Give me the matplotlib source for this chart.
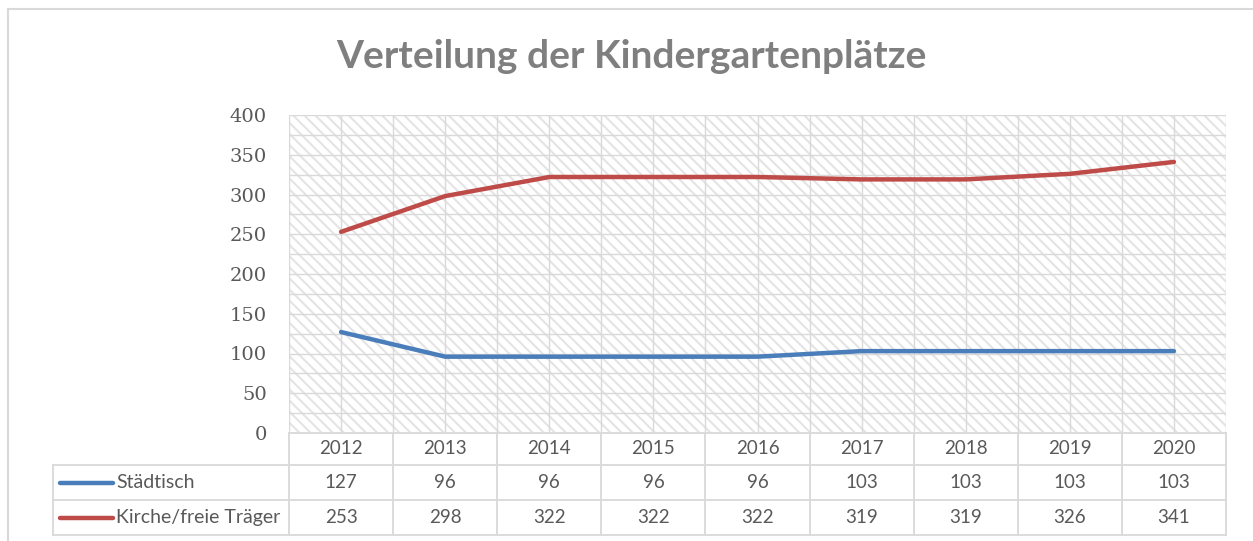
import matplotlib.pyplot as plt
import matplotlib.transforms as mtransforms
from matplotlib.patches import Rectangle
import numpy as np

years = ["2012", "2013", "2014", "2015", "2016", "2017", "2018", "2019", "2020"]
staedtisch = [127, 96, 96, 96, 96, 103, 103, 103, 103]
kirche = [253, 298, 322, 322, 322, 319, 319, 326, 341]
series_names = ["Städtisch", "Kirche/freie Träger"]
series_colors = ["#4A7EBB", "#BE4B48"]

GRID = "#d9d9d9"
TXT = "#595959"

plt.rcParams["hatch.linewidth"] = 1.5
plt.rcParams["hatch.color"] = "#e4e4e4"

fig = plt.figure(figsize=(12.53, 5.41), dpi=100)
ax = fig.add_axes([289 / 1253, 1 - 433 / 541, (1226 - 289) / 1253, (433 - 115) / 541])

x = np.arange(len(years))
ax.set_xlim(-0.5, len(years) - 0.5)
ax.set_ylim(0, 400)

# hatched background
ax.add_patch(Rectangle((0, 0), 1, 1, transform=ax.transAxes, facecolor="white",
                       edgecolor="#e4e4e4", hatch="\\\\\\", lw=0, zorder=0))

# gridlines: every 25 horizontally, every half category vertically
for yv in np.arange(25, 401, 25):
    ax.axhline(yv, color=GRID, lw=1.0, zorder=1)
for xv in np.arange(-0.5, len(years), 0.5):
    ax.axvline(xv, color=GRID, lw=1.0, zorder=1)

for vals, c in zip([staedtisch, kirche], series_colors):
    ax.plot(x, vals, color=c, lw=3.2, solid_capstyle="round", zorder=3)

for s in ax.spines.values():
    s.set_visible(False)
ax.set_xticks([])
ax.set_yticks(np.arange(0, 401, 50))
ax.tick_params(axis="y", length=0, pad=16, labelsize=14, labelcolor=TXT)
for lab in ax.get_yticklabels():
    lab.set_fontfamily("DejaVu Serif")

# data table below the axes
trans = mtransforms.blended_transform_factory(ax.transData, ax.transAxes)
h = 318.0
r0, r1, r2, r3 = 0.0, -32 / h, -67 / h, -102 / h
left_leg = (53 - 289) / 937.0 * 9 - 0.5  # legend column left edge in data units
lk = dict(color=GRID, lw=1.3, clip_on=False, transform=trans, zorder=2)
ax.plot([-0.5, 8.5], [r0, r0], **lk)
for ry in (r1, r2, r3):
    ax.plot([left_leg, 8.5], [ry, ry], **lk)
for b in np.arange(-0.5, len(years), 1.0):
    ax.plot([b, b], [r0, r3], **lk)
ax.plot([left_leg, left_leg], [r1, r3], **lk)

tk = dict(transform=trans, ha="center", va="center", fontsize=13.5,
          color=TXT, family="Lato", clip_on=False)
for i, yr in enumerate(years):
    ax.text(i, (r0 + r1) / 2, yr, **tk)
    ax.text(i, (r1 + r2) / 2, str(staedtisch[i]), **tk)
    ax.text(i, (r2 + r3) / 2, str(kirche[i]), **tk)

sample_l = left_leg + 7 / 937.0 * 9
sample_r = left_leg + 60 / 937.0 * 9
for name, c, (ra, rb) in zip(series_names, series_colors, [(r1, r2), (r2, r3)]):
    ym = (ra + rb) / 2
    ax.plot([sample_l, sample_r], [ym, ym], color=c, lw=3.2, clip_on=False,
            transform=trans, solid_capstyle="round")
    ax.text(sample_r + 0.03, ym, name, transform=trans, ha="left", va="center",
            fontsize=14, color=TXT, family="Lato", clip_on=False)

# title
fig.text(631 / 1253, 1 - 57 / 541, "Verteilung der Kindergartenplätze", ha="center",
         va="center", fontsize=28, fontweight="bold", color="#7f7f7f", family="Lato")

# chart border (cut off at right and bottom)
fig.add_artist(plt.Line2D([8 / 1253, 1], [1 - 9 / 541, 1 - 9 / 541], color=GRID, lw=1.5))
fig.add_artist(plt.Line2D([8 / 1253, 8 / 1253], [0, 1 - 9 / 541], color=GRID, lw=1.5))

fig.savefig("out.png", dpi=100)
